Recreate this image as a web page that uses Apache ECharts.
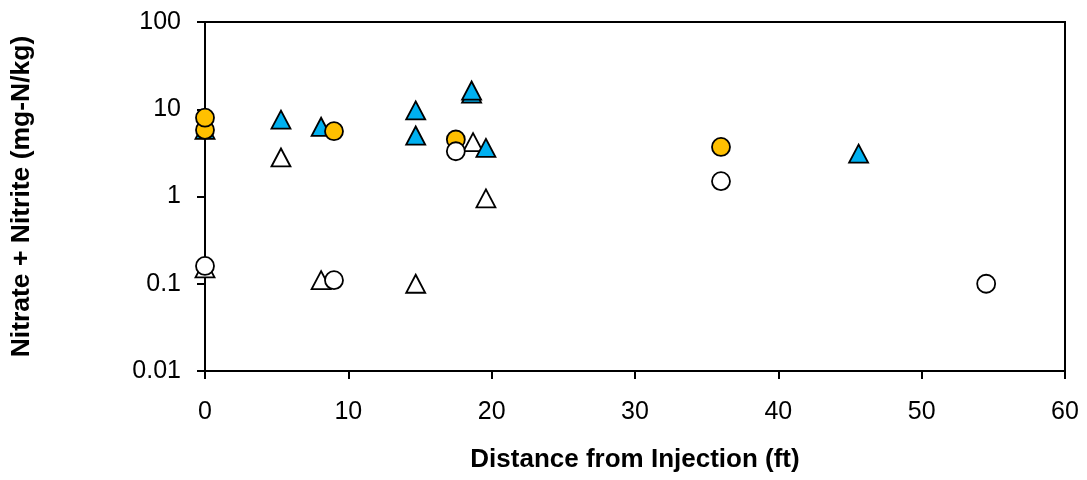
<!DOCTYPE html>
<html>
<head>
<meta charset="utf-8">
<script src="https://cdn.jsdelivr.net/npm/echarts@6/dist/echarts.min.js"></script>
<style>
html,body{margin:0;padding:0;background:#fff;}
#chart{width:1087px;height:480px;}
</style>
</head>
<body>
<div id="chart"></div>
<script>
// Data
var xTicks = [0, 10, 20, 30, 40, 50, 60];
var yTickLabels = ['0.01', '0.1', '1', '10', '100'];

var whiteTriX = [0, 5.3, 8.1, 14.7, 18.7, 19.6];
var whiteTriY = [0.15, 2.8, 0.11, 0.1, 4.2, 0.95];

var blueTriX = [0, 5.3, 8.1, 14.7, 14.7, 18.6, 18.6, 19.6, 45.6];
var blueTriY = [5.8, 7.6, 6.3, 9.7, 5.0, 15.1, 16.4, 3.6, 3.1];

var orangeCircX = [0, 0, 9.0, 17.5, 36];
var orangeCircY = [5.8, 8.0, 5.6, 4.5, 3.7];

var whiteCircX = [0, 9.0, 17.5, 36, 54.5];
var whiteCircY = [0.16, 0.11, 3.3, 1.5, 0.1];

function pairs(xs, ys) {
  return xs.map(function (x, i) { return [x, ys[i]]; });
}

var FONT = 'Liberation Sans, Arial, sans-serif';
var chart = echarts.init(document.getElementById('chart'), null, {renderer: 'canvas'});

function scatter(name, xs, ys, symbol, size, fill) {
  return {
    name: name,
    type: 'scatter',
    data: pairs(xs, ys),
    symbol: symbol,
    symbolSize: size,
    itemStyle: {color: fill, borderColor: '#000', borderWidth: 1.8, opacity: 1},
    emphasis: {disabled: true},
    animation: false
  };
}

chart.setOption({
  animation: false,
  backgroundColor: '#fff',
  grid: {left: 205, right: 22, top: 22, bottom: 109, show: true, borderColor: '#000', borderWidth: 2, backgroundColor: 'transparent'},
  xAxis: {
    type: 'value',
    min: 0, max: 60, interval: 10,
    name: 'Distance from Injection (ft)',
    nameLocation: 'middle',
    nameGap: 76,
    nameTextStyle: {fontFamily: FONT, fontSize: 26, fontWeight: 'bold', color: '#000'},
    axisLine: {show: true, onZero: false, lineStyle: {color: '#000', width: 2}},
    axisTick: {show: true, inside: false, length: 8, lineStyle: {color: '#000', width: 2}},
    axisLabel: {fontFamily: FONT, fontSize: 25, color: '#000', margin: 29,
      formatter: function (v) { return xTicks.indexOf(v) >= 0 ? String(v) : ''; }},
    splitLine: {show: false}
  },
  yAxis: {
    type: 'log',
    logBase: 10,
    min: 0.01, max: 100,
    name: 'Nitrate + Nitrite (mg-N/kg)',
    nameLocation: 'middle',
    nameGap: 170,
    nameRotate: 90,
    nameTextStyle: {fontFamily: FONT, fontSize: 26.5, fontWeight: 'bold', color: '#000'},
    axisLine: {show: true, onZero: false, lineStyle: {color: '#000', width: 2}},
    axisTick: {show: true, inside: false, length: 8, lineStyle: {color: '#000', width: 2}},
    axisLabel: {fontFamily: FONT, fontSize: 25, color: '#000', margin: 24,
      formatter: function (v) {
        var idx = Math.round(Math.log10(v)) + 2;
        return yTickLabels[idx] !== undefined ? yTickLabels[idx] : '';
      }},
    splitLine: {show: false}
  },
  series: [
    scatter('White triangles', whiteTriX, whiteTriY, 'triangle', [19, 18], '#ffffff'),
    scatter('Blue triangles', blueTriX, blueTriY, 'triangle', [19, 18], '#00B0F0'),
    scatter('Orange circles', orangeCircX, orangeCircY, 'circle', 18, '#FFC000'),
    scatter('White circles', whiteCircX, whiteCircY, 'circle', 18, '#ffffff')
  ]
});
</script>
</body>
</html>
